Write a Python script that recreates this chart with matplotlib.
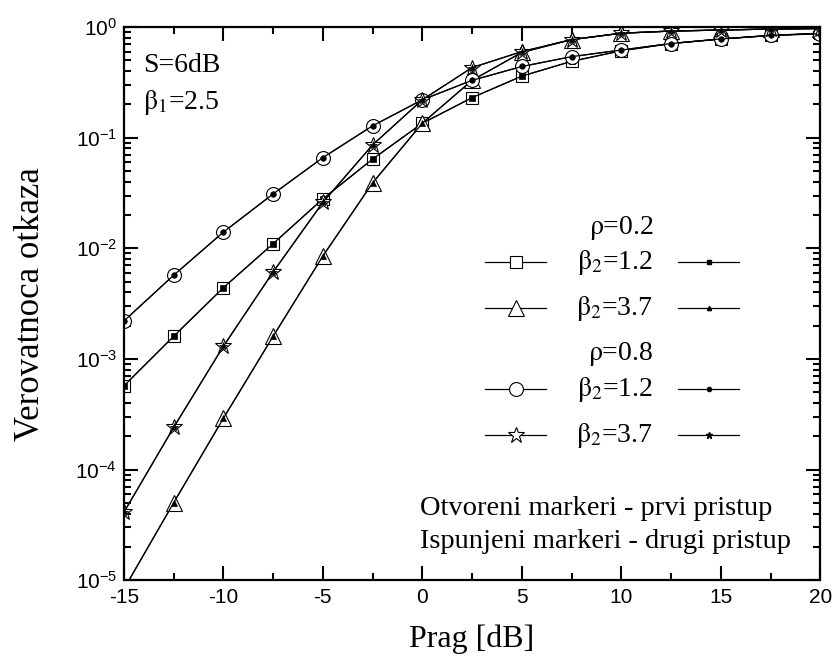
import numpy as np
import matplotlib.pyplot as plt
from matplotlib.lines import Line2D
from matplotlib.font_manager import FontProperties

# Data
prag = [-15, -12.5, -10, -7.5, -5, -2.5, 0, 2.5, 5, 7.5, 10, 12.5, 15, 17.5, 20]

# rho=0.2
p02_b12 = [5.7e-4, 1.6e-3, 4.4e-3, 0.011, 0.028, 0.064, 0.135, 0.23, 0.36, 0.49, 0.61, 0.71, 0.78, 0.84, 0.88]
p02_b37 = [8.3e-6, 5.0e-5, 2.9e-4, 1.6e-3, 8.5e-3, 0.039, 0.135, 0.33, 0.59, 0.77, 0.88, 0.92, 0.94, 0.96, 0.97]
# rho=0.8
p08_b12 = [2.2e-3, 5.7e-3, 0.014, 0.031, 0.066, 0.128, 0.22, 0.33, 0.44, 0.54, 0.62, 0.71, 0.78, 0.84, 0.87]
p08_b37 = [4.1e-5, 2.4e-4, 1.3e-3, 6.1e-3, 0.026, 0.086, 0.22, 0.43, 0.60, 0.77, 0.88, 0.92, 0.94, 0.96, 0.97]

series = [p02_b12, p02_b37, p08_b12, p08_b37]
open_mk = ['s', '^', 'o', '*']
open_ms = [9, 11, 10, 12]
fill_ms = [4, 4, 4, 6]

plt.rcParams['mathtext.fontset'] = 'custom'
plt.rcParams['mathtext.rm'] = 'Liberation Sans'
plt.rcParams['mathtext.it'] = 'Liberation Sans'
plt.rcParams['font.family'] = 'Liberation Sans'

serif = FontProperties(family='Liberation Serif', size=20, math_fontfamily='stix')

fig = plt.figure(figsize=(8.37, 6.60), dpi=100)
ax = fig.add_axes([0.148, 0.121, 0.832, 0.838])

for y, m, ms, fs in zip(series, open_mk, open_ms, fill_ms):
    ax.plot(prag, y, color='black', lw=0.9, marker=m, ms=ms, mfc='white', mec='black', mew=0.8)
    ax.plot(prag, y, color='black', lw=0.9, marker=m, ms=fs, mfc='black', mec='black', mew=0.5)

ax.set_yscale('log')
ax.set_xlim(-15, 20)
ax.set_ylim(1e-5, 1)
ax.set_xticks([-15, -10, -5, 0, 5, 10, 15, 20])
ax.set_xticklabels(['-15', '-10', '-5', '0', '5', '10', '15', '20'])
ax.set_xticks(np.arange(-12.5, 20, 5), minor=True)
ax.tick_params(which='both', direction='in', top=True, right=True, labelsize=15, width=1.5)
ax.tick_params(which='major', length=10)
ax.tick_params(which='minor', length=5)
ax.tick_params(axis='x', pad=6)
ax.tick_params(axis='y', pad=5)
for s in ax.spines.values():
    s.set_linewidth(1.6)

ax.set_xlabel('Prag [dB]', family='Liberation Serif', fontsize=23, labelpad=12)
ax.set_ylabel('Verovatnoca otkaza', family='Liberation Serif', fontsize=25, labelpad=20)

ax.text(0.027, 0.931, 'S=6dB', transform=ax.transAxes, fontproperties=serif, va='center')
ax.text(0.027, 0.863, r'$\mathrm{\beta}_1$=2.5', transform=ax.transAxes, fontproperties=serif, va='center')

# legend built by hand
rows = [(0.636, r'$\mathrm{\rho}$=0.2', None),
        (0.575, r'$\mathrm{\beta}_2$=1.2', 0),
        (0.492, r'$\mathrm{\beta}_2$=3.7', 1),
        (0.408, r'$\mathrm{\rho}$=0.8', None),
        (0.345, r'$\mathrm{\beta}_2$=1.2', 2),
        (0.262, r'$\mathrm{\beta}_2$=3.7', 3)]
for yy, label, k in rows:
    ax.text(0.760, yy, label, transform=ax.transAxes, fontproperties=serif, ha='right', va='center')
    if k is None:
        continue
    ax.add_line(Line2D([0.519, 0.606], [yy, yy], transform=ax.transAxes, color='black', lw=0.9))
    ax.add_line(Line2D([0.5625], [yy], transform=ax.transAxes, marker=open_mk[k], ms=open_ms[k],
                       mfc='white', mec='black', mew=0.8, ls='none'))
    ax.add_line(Line2D([0.796, 0.884], [yy, yy], transform=ax.transAxes, color='black', lw=0.9))
    ax.add_line(Line2D([0.840], [yy], transform=ax.transAxes, marker=open_mk[k], ms=fill_ms[k] - 1,
                       mfc='black', mec='black', ls='none'))

ax.text(0.425, 0.130, 'Otvoreni markeri - prvi pristup', transform=ax.transAxes,
        family='Liberation Serif', fontsize=20.5, va='center')
ax.text(0.425, 0.069, 'Ispunjeni markeri - drugi pristup', transform=ax.transAxes,
        family='Liberation Serif', fontsize=20.5, va='center')

fig.savefig('out.png', dpi=100)
